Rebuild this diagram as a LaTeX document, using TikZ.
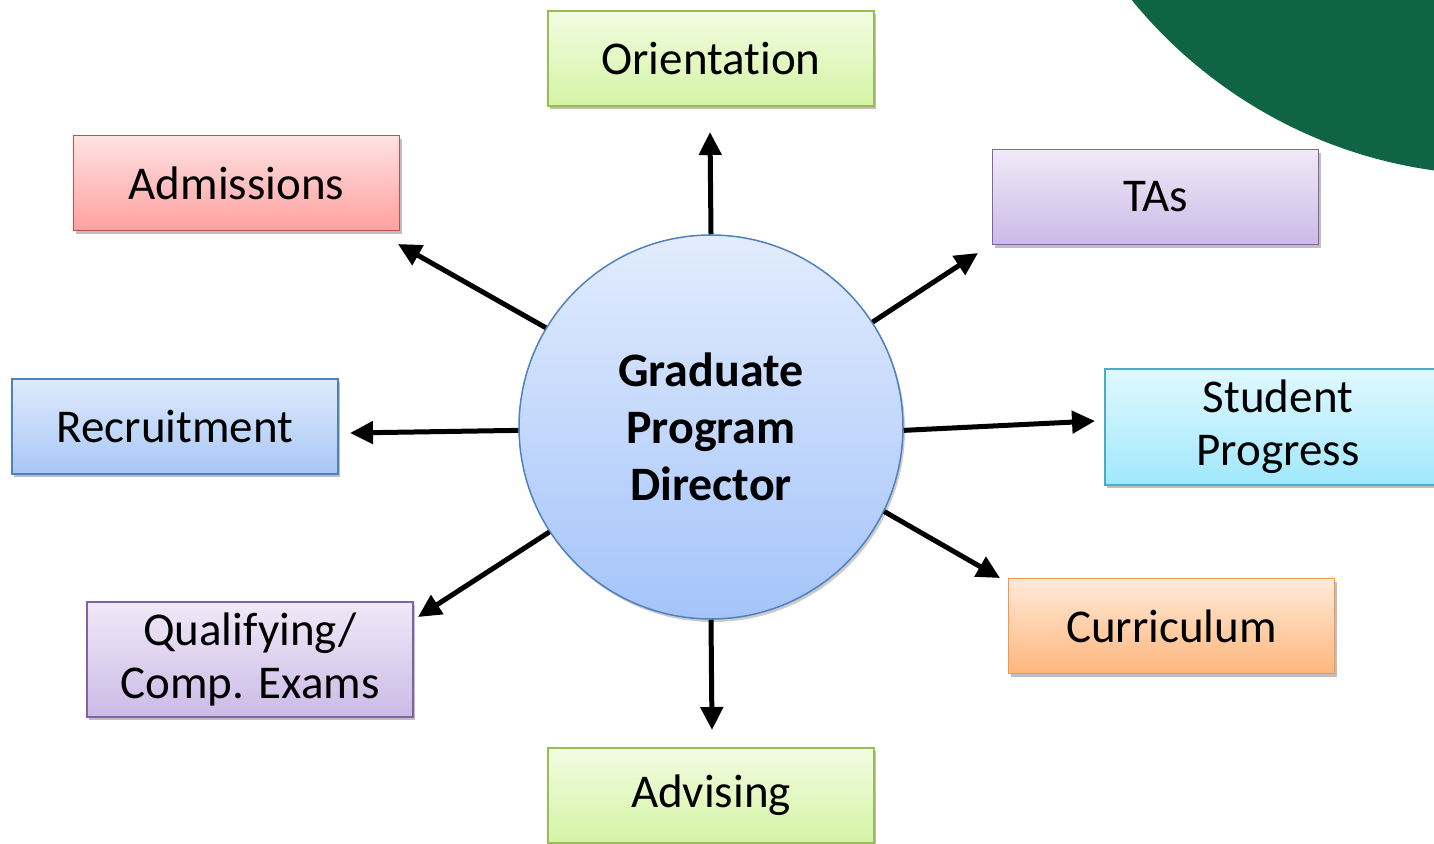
\documentclass[tikz,border=0pt]{standalone}
\usepackage{fontspec}
\setmainfont[RawFeature={-liga;-clig;-calt;-dlig}]{Carlito}
\usetikzlibrary{arrows.meta,shadows}
\definecolor{dgreen}{HTML}{0F6446}
\tikzset{
  box/.style={draw, line width=1.5pt, minimum width=326pt, minimum height=95pt, inner sep=0pt, align=center,
    font=\fontsize{47}{53}\selectfont,
    drop shadow={shadow xshift=2pt, shadow yshift=-3pt, opacity=0.25, fill=black}},
  greenbox/.style={box, draw={rgb,255:red,155;green,187;blue,89}, top color={rgb,255:red,242;green,252;blue,226}, bottom color={rgb,255:red,212;green,244;blue,164}},
  redbox/.style={box, draw={rgb,255:red,192;green,80;blue,77}, top color={rgb,255:red,255;green,226;blue,226}, bottom color={rgb,255:red,255;green,160;blue,160}},
  purplebox/.style={box, draw={rgb,255:red,128;green,100;blue,162}, top color={rgb,255:red,240;green,233;blue,248}, bottom color={rgb,255:red,204;green,186;blue,230}},
  bluebox/.style={box, draw={rgb,255:red,79;green,129;blue,189}, top color={rgb,255:red,222;green,234;blue,252}, bottom color={rgb,255:red,168;green,199;blue,246}},
  cyanbox/.style={box, draw={rgb,255:red,75;green,172;blue,198}, top color={rgb,255:red,224;green,248;blue,255}, bottom color={rgb,255:red,160;green,232;blue,252}},
  orangebox/.style={box, draw={rgb,255:red,247;green,150;blue,70}, top color={rgb,255:red,255;green,234;blue,216}, bottom color={rgb,255:red,255;green,182;blue,124}},
  hub/.style={circle, draw={rgb,255:red,79;green,129;blue,189}, line width=1.5pt, minimum size=384pt, inner sep=0pt, align=center,
    font=\fontsize{48}{57}\selectfont\bfseries,
    top color={rgb,255:red,226;green,236;blue,253}, bottom color={rgb,255:red,164;green,196;blue,250},
    drop shadow={shadow xshift=2pt, shadow yshift=-3pt, opacity=0.2, fill=black}},
  conn/.style={line width=5pt, -{Triangle[length=23pt,width=22pt]}}
}
\begin{document}
\begin{tikzpicture}[x=1pt,y=1pt]
\useasboundingbox (0,0) rectangle (1434,-843);
\begin{scope}
\clip (0,0) rectangle (1434,-843);
\fill[dgreen] (1500,300) circle (475);
\node[greenbox] (orient) at (711,-58.5) {Orientation};
\node[redbox] (adm) at (236.5,-183) {Admissions};
\node[purplebox] (tas) at (1155.5,-197) {TAs};
\node[bluebox] (rec) at (175,-426.5) {Recruitment};
\node[cyanbox, minimum width=346pt, minimum height=116pt] (prog) at (1278,-427) {Student\\Progress};
\node[orangebox] (cur) at (1171.5,-626) {Curriculum};
\node[purplebox, minimum height=115pt] (qual) at (250,-659.5) {Qualifying/\\Comp. Exams};
\node[greenbox] (adv) at (711,-795.5) {Advising};
\node[hub] (c) at (711,-427) {Graduate\\Program\\Director};
\end{scope}
\coordinate (eUp) at (710,-132);
\coordinate (eAdm) at (398,-244);
\coordinate (eTas) at (978,-253);
\coordinate (eRec) at (350,-433);
\coordinate (eProg) at (1095,-421);
\coordinate (eCur) at (1000,-578);
\coordinate (eQual) at (418,-617);
\coordinate (eAdv) at (712,-730);
\draw[conn] (c.90) -- (eUp);
\draw[conn] (c.149) -- (eAdm);
\draw[conn] (c.33) -- (eTas);
\draw[conn] (c.181) -- (eRec);
\draw[conn] (c.359) -- (eProg);
\draw[conn] (c.-26.4) -- (eCur);
\draw[conn] (c.213.4) -- (eQual);
\draw[conn] (c.270) -- (eAdv);
\end{tikzpicture}
\end{document}
